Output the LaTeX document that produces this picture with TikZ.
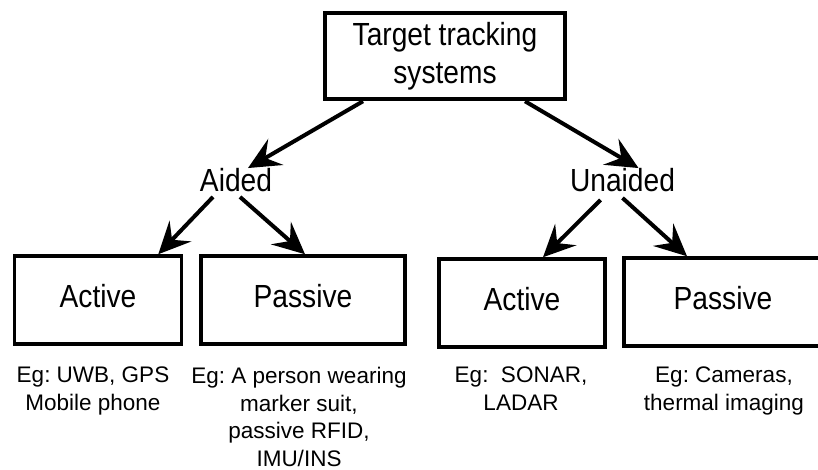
\documentclass[tikz,border=0pt]{standalone}
\usepackage{fontspec}
\setmainfont{Liberation Sans}
\newfontfamily\boxfont[FakeStretch=0.88]{Liberation Sans}
\usetikzlibrary{arrows.meta}
\frenchspacing

\begin{document}
\begin{tikzpicture}[x=1pt, y=-1pt,
  box/.style={draw, line width=3.5pt, minimum height=88pt, inner sep=0pt, text height=23pt, text depth=8pt, font=\boxfont\fontsize{32}{38}\selectfont},
  lbl/.style={inner sep=0pt, font=\boxfont\fontsize{32}{38}\selectfont},
  eg/.style={anchor=north, align=center, inner sep=0pt, font=\fontsize{22.5}{27.7}\selectfont},
  arr/.style={line width=4pt, -{Stealth[length=32pt, width=30pt, inset=12pt]}}]
\useasboundingbox (0,0) rectangle (818,470) ;
\node[draw, line width=4.5pt, minimum width=240pt, minimum height=86pt, inner sep=0pt, align=center, font=\boxfont\fontsize{32}{38}\selectfont] (tts) at (445,56) {Target tracking\\systems} ;
\node[lbl] (aided) at (236,180) {Aided} ;
\node[lbl] (unaided) at (622.5,180) {Unaided} ;
\node[box, minimum width=167pt] (act1) at (98,300) {Active} ;
\node[box, minimum width=204pt] (pas1) at (303,300) {Passive} ;
\node[box, minimum width=166pt] (act2) at (522,303) {Active} ;
\node[box, minimum width=198pt] (pas2) at (723,302) {Passive} ;
\node[eg] (eg1) at (93,367) {Eg: UWB, GPS\\Mobile phone} ;
\node[eg] (eg2) at (299,367) {Eg: A person wearing\\marker suit,\\passive RFID,\\IMU/INS} ;
\node[eg] (eg3) at (521,367) {Eg:\ \ SONAR,\\LADAR} ;
\node[eg] (eg4) at (724,367) {Eg: Cameras,\\thermal imaging} ;
\draw[arr] ([xshift=-82pt]tts.south) -- ([xshift=12pt]aided.north) ;
\draw[arr] ([xshift=80pt]tts.south) -- ([xshift=16pt]unaided.north) ;
\draw[arr] ([xshift=-23pt, yshift=-5pt]aided.south) -- ([xshift=-25pt]act1.north east) ;
\draw[arr] ([xshift=4pt, yshift=-5pt]aided.south) -- ([xshift=2pt]pas1.north) ;
\draw[arr] ([xshift=-22pt, yshift=-8pt]unaided.south) -- ([xshift=21pt]act2.north) ;
\draw[arr] ([yshift=-6pt]unaided.south) -- ([xshift=-36pt]pas2.north) ;
\end{tikzpicture}
\end{document}
